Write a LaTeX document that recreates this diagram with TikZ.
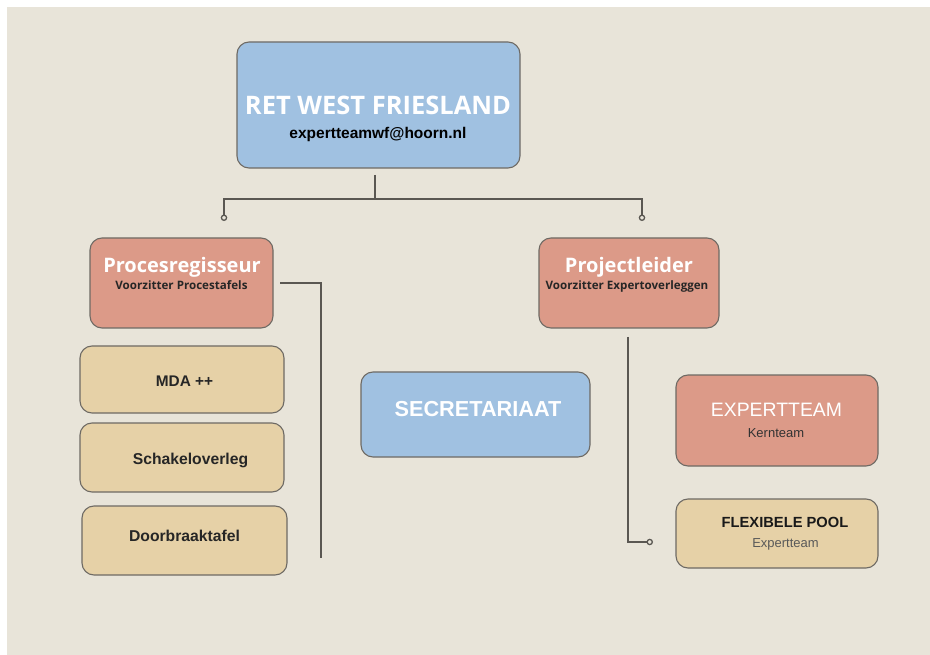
\documentclass[tikz,border=0pt]{standalone}
\usepackage{fontspec}
\setmainfont{Liberation Sans}
\newfontfamily\osans{Open Sans}
\newfontfamily\arsans{Liberation Sans}
\usetikzlibrary{arrows.meta}
\definecolor{bgbeige}{HTML}{E8E4D9}
\definecolor{boxblue}{HTML}{A0C1E1}
\definecolor{boxsalmon}{HTML}{DC9A88}
\definecolor{boxtan}{HTML}{E6D1A7}
\definecolor{edgegray}{HTML}{6E6A64}
\definecolor{linegray}{HTML}{5A5752}
\tikzset{
  orgbox/.style={draw=edgegray, line width=1.1pt, rounded corners=12pt, inner sep=0pt},
  bluebox/.style={orgbox, fill=boxblue},
  salmonbox/.style={orgbox, fill=boxsalmon},
  tanbox/.style={orgbox, fill=boxtan},
  conn/.style={draw=linegray, line width=1.9pt},
  dotend/.style={-{Circle[open,length=6.5pt,line width=1.3pt]}},
  txt/.style={inner sep=0pt, anchor=base}
}
\begin{document}
\begin{tikzpicture}[x=1pt,y=-1pt]
\useasboundingbox (0,0) rectangle (930,655);
\fill[white] (0,0) rectangle (930,655);
\fill[bgbeige] (7,7) rectangle (930,655);

% boxes
\node[bluebox, minimum width=283pt, minimum height=126pt] (top) at (378.5,105) {};
\node[salmonbox, minimum width=183pt, minimum height=90pt] (proc) at (181.5,283) {};
\node[salmonbox, minimum width=180pt, minimum height=90pt] (proj) at (629,283) {};
\node[tanbox, minimum width=204pt, minimum height=67pt] (mda) at (182,379.5) {};
\node[tanbox, minimum width=204pt, minimum height=69pt] (schak) at (182,457.5) {};
\node[tanbox, minimum width=205pt, minimum height=69pt] (door) at (184.5,540.5) {};
\node[bluebox, minimum width=229pt, minimum height=85pt] (secr) at (475.5,414.5) {};
\node[salmonbox, minimum width=202pt, minimum height=91pt] (exp) at (777,420.5) {};
\node[tanbox, minimum width=202pt, minimum height=69pt] (flex) at (777,533.5) {};

% texts
\node[txt, text=white] (t1) at (378,115) {\osans\bfseries\fontsize{25.5}{28}\selectfont RET WEST FRIESLAND};
\node[txt] (t2) at (378,139) {\arsans\bfseries\fontsize{15.5}{17}\selectfont expertteamwf@hoorn.nl};
\node[txt, text=white] (t3) at (182,273) {\osans\bfseries\fontsize{20}{22}\selectfont Procesregisseur};
\node[txt, text=black!85] (t4) at (181.5,290) {\osans\bfseries\fontsize{11.6}{13}\selectfont Voorzitter Procestafels};
\node[txt, text=white] (t5) at (629,273) {\osans\bfseries\fontsize{20}{22}\selectfont Projectleider};
\node[txt, text=black!85] (t6) at (627,290) {\osans\bfseries\fontsize{11.6}{13}\selectfont Voorzitter Expertoverleggen};
\node[txt, text=black!85] (t7) at (184.5,386) {\arsans\bfseries\fontsize{15.4}{17}\selectfont MDA ++};
\node[txt, text=black!85] (t8) at (190.5,464) {\arsans\bfseries\fontsize{15.7}{17}\selectfont Schakeloverleg};
\node[txt, text=black!85] (t9) at (184.5,541) {\arsans\bfseries\fontsize{15.7}{17}\selectfont Doorbraaktafel};
\node[txt, text=white] (t10) at (478,417) {\arsans\bfseries\fontsize{21.7}{24}\selectfont SECRETARIAAT};
\node[txt, text=white] (t11) at (776.5,416) {\arsans\fontsize{19.4}{21}\selectfont EXPERTTEAM};
\node[txt, text=black!80] (t12) at (776,437) {\arsans\fontsize{13}{15}\selectfont Kernteam};
\node[txt, text=black!90] (t13) at (785,527) {\arsans\bfseries\fontsize{14.7}{16}\selectfont FLEXIBELE POOL};
\node[txt, text=black!65] (t14) at (785.5,547) {\arsans\fontsize{13}{15}\selectfont Expertteam};

% connector coordinates
\coordinate (topout) at (375,175);
\coordinate (junc) at (375,199);
\coordinate (lend) at (224,221);
\coordinate (rend) at (642,221);
\coordinate (procout) at (280,283);
\coordinate (procbend) at (321,283);
\coordinate (procend) at (321,558);
\coordinate (projout) at (628,337);
\coordinate (projbend) at (628,542);
\coordinate (flexend) at (653,542);

\draw[conn] (topout) -- (junc);
\draw[conn, dotend] (junc) -| (lend);
\draw[conn, dotend] (junc) -| (rend);
\draw[conn] (procout) -- (procbend) -- (procend);
\draw[conn, dotend] (projout) -- (projbend) -- (flexend);
\end{tikzpicture}
\end{document}
